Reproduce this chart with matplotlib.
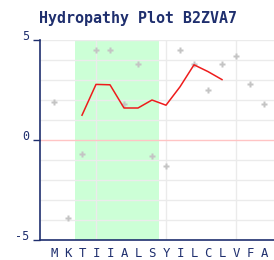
import matplotlib.pyplot as plt

# residues and Kyte-Doolittle values
residues = ["M", "K", "T", "I", "I", "A", "L", "S", "Y", "I", "L", "C", "L", "V", "F", "A"]
kd_values = [1.9, -3.9, -0.7, 4.5, 4.5, 1.8, 3.8, -0.8, -1.3, 4.5, 3.8, 2.5, 3.8, 4.2, 2.8, 1.8]

# window average (5 residues)
avg_pos = [3, 4, 5, 6, 7, 8, 9, 10, 11, 12, 13]
avg_values = [1.24, 2.78, 2.76, 1.6, 1.6, 2.0, 1.74, 2.66, 3.76, 3.42, 3.02]

# highlighted region
region_start = 2.5
region_end = 8.5

navy = "#1f2f6e"
pos = list(range(1, len(residues) + 1))

fig = plt.figure(figsize=(2.74, 2.60), dpi=100)
ax = fig.add_axes([40 / 274, 20 / 260, 234 / 274, 200 / 260])

ax.axvspan(region_start, region_end, color="#ccffd6", zorder=0.2, lw=0)
for y in range(-4, 6):
    if y != 0:
        ax.axhline(y, color="#ebebeb", lw=1, zorder=0.5)
for x in [4, 9, 14]:
    ax.axvline(x, color="#ebebeb", lw=1, zorder=0.5)
ax.axhline(0, color="#ffc4c4", lw=1, zorder=0.6)

ax.plot(pos, kd_values, ls="none", marker="P", ms=4.5, color="#c4c4c4", mec="none", zorder=2)
ax.plot(avg_pos, avg_values, color="#ee1c1c", lw=1.1, zorder=3)

ax.set_xlim(0, 234 / 14)
ax.set_ylim(-5, 5)
ax.set_xticks(pos)
ax.set_xticklabels(residues, family="DejaVu Sans Mono", fontsize=8.8, color=navy)
ax.tick_params(axis="x", length=0, pad=5)
ax.set_yticks([-5, 0, 5])
ax.set_yticklabels(["-5", "0", "5"], family="DejaVu Sans Mono", fontsize=8.5, color=navy)
ax.tick_params(axis="y", length=5, width=1, color=navy, pad=3)
ax.yaxis.get_major_ticks()[1].tick1line.set_color("#ffc4c4")
for t in ax.get_yticklabels():
    t.set_verticalalignment("baseline")

for s in ["top", "right"]:
    ax.spines[s].set_visible(False)
for s in ["left", "bottom"]:
    ax.spines[s].set_color(navy)
    ax.spines[s].set_linewidth(1.2)

fig.text(138 / 274, 1 - 18 / 260, "Hydropathy Plot B2ZVA7", ha="center", va="center",
         family="DejaVu Sans Mono", fontsize=10.8, color=navy, fontweight="bold")

fig.savefig("out.png", dpi=100)
